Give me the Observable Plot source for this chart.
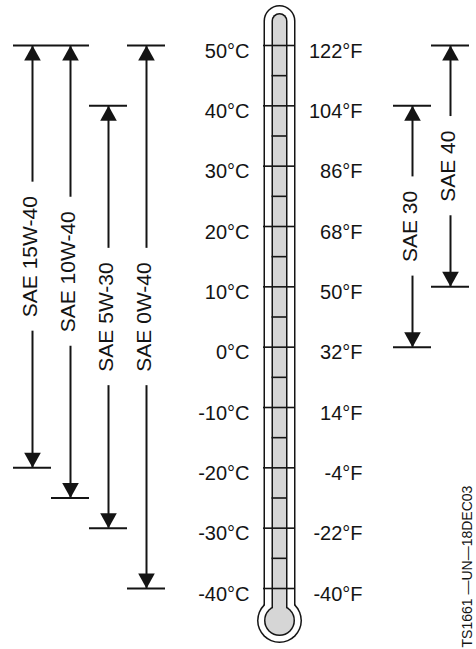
<!DOCTYPE html>
<html><head><meta charset="utf-8">
<script src="https://cdn.jsdelivr.net/npm/d3@7"></script>
<script src="https://cdn.jsdelivr.net/npm/@observablehq/plot@0.6"></script>
<style>
body{margin:0;background:#fff;}
#chart svg{display:block;}
</style>
</head><body><div id="chart"></div>
<script>
// ---- data ----
const grades = ["SAE 15W-40", "SAE 10W-40", "SAE 5W-30", "SAE 0W-40", "SAE 30", "SAE 40"];
const sides  = ["left", "left", "left", "left", "right", "right"];
const lowC   = [-20, -25, -30, -40, 0, 10];
const highC  = [50, 50, 40, 50, 40, 50];
const celsiusTicks = [50, 40, 30, 20, 10, 0, -10, -20, -30, -40];
const celsiusLabels = ["50°C", "40°C", "30°C", "20°C", "10°C", "0°C", "-10°C", "-20°C", "-30°C", "-40°C"];
const fahrenheitLabels = ["122°F", "104°F", "86°F", "68°F", "50°F", "32°F", "14°F", "-4°F", "-22°F", "-40°F"];
const minorTicks = [45, 35, 25, 15, 5, -5, -15, -25, -35];
const figureId = "TS1661 —UN—18DEC03";

// ---- layout helpers ----
const FONT = "'Liberation Sans', Arial, Helvetica, sans-serif";
const INK = "#141414";
const W = 476, H = 649;
const xOpts = {domain: [0, 11], range: [32, 450]};
const yOpts = {domain: [-40, 50], range: [588, 45]};
const degPerPx = (yOpts.domain[1] - yOpts.domain[0]) / (yOpts.range[0] - yOpts.range[1]);
const thermoX = 6.5;

const ctx = document.createElement("canvas").getContext("2d");
ctx.font = `21px ${FONT}`;

let leftCount = 0, rightCount = 0;
const rows = grades.map((g, i) => {
  const slot = sides[i] === "left" ? leftCount++ : 10 + rightCount++;
  const mid = (lowC[i] + highC[i]) / 2;
  const halfGap = (ctx.measureText(g).width / 2 + 14) * degPerPx;
  return {grade: g, slot, low: lowC[i], high: highC[i], mid, halfGap};
});
const segments = rows.flatMap(r => [
  {slot: r.slot, y1: r.high, y2: r.mid + r.halfGap},
  {slot: r.slot, y1: r.mid - r.halfGap, y2: r.low}
]);
const bars = rows.flatMap(r => [{slot: r.slot, y: r.high}, {slot: r.slot, y: r.low}]);
const ticks = celsiusTicks.map((c, i) => ({c, cl: celsiusLabels[i], fl: fahrenheitLabels[i]}));

const upTri = {draw(c) { c.moveTo(0, 0); c.lineTo(8.3, 15); c.lineTo(-8.3, 15); c.closePath(); }};
const downTri = {draw(c) { c.moveTo(0, 0); c.lineTo(8.3, -15); c.lineTo(-8.3, -15); c.closePath(); }};

const tube = {x: d => d, y1: 50, y2: -40, insetTop: -24, insetBottom: -32, strokeLinecap: "round"};
const bulb = {x: d => d, y: -40, dy: 32, stroke: "none"};

const chart = Plot.plot({
  width: W, height: H,
  margin: 0,
  x: {...xOpts, axis: null},
  y: {...yOpts, axis: null},
  style: {fontFamily: FONT, color: INK, background: "#fff"},
  marks: [
    // thermometer outer shell (outline by layering)
    Plot.ruleX([thermoX], {...tube, stroke: INK, strokeWidth: 32}),
    Plot.dot([thermoX], {...bulb, r: 22.5, fill: INK}),
    Plot.ruleX([thermoX], {...tube, stroke: "#fff", strokeWidth: 29}),
    Plot.dot([thermoX], {...bulb, r: 21, fill: "#fff"}),
    // inner column
    Plot.ruleX([thermoX], {...tube, stroke: INK, strokeWidth: 16}),
    Plot.dot([thermoX], {...bulb, r: 15.5, fill: INK}),
    Plot.ruleX([thermoX], {...tube, stroke: "#d6d6d6", strokeWidth: 13}),
    Plot.dot([thermoX], {...bulb, r: 14, fill: "#d6d6d6"}),
    // thermometer graduations
    Plot.ruleY(celsiusTicks, {y: d => d, x1: thermoX, x2: thermoX, insetLeft: -16, insetRight: -16, stroke: INK, strokeWidth: 1.6}),
    Plot.ruleY(minorTicks, {y: d => d, x1: thermoX, x2: thermoX, insetLeft: -7.5, insetRight: -7.5, stroke: INK, strokeWidth: 1.6}),
    // scale labels
    Plot.text(ticks, {x: thermoX, y: "c", text: "cl", textAnchor: "end", lineAnchor: "top", dx: -30, dy: -2, fontSize: 20, fill: INK}),
    Plot.text(ticks, {x: thermoX, y: "c", text: "fl", textAnchor: "end", lineAnchor: "top", dx: 83, dy: -2, fontSize: 20, fill: INK}),
    // viscosity ranges
    Plot.ruleX(segments, {x: "slot", y1: "y1", y2: "y2", stroke: INK, strokeWidth: 2}),
    Plot.ruleY(bars, {y: "y", x1: d => d.slot - 0.5, x2: d => d.slot + 0.5, stroke: INK, strokeWidth: 2}),
    Plot.dot(rows, {x: "slot", y: "high", symbol: upTri, fill: INK, stroke: "none"}),
    Plot.dot(rows, {x: "slot", y: "low", symbol: downTri, fill: INK, stroke: "none"}),
    Plot.text(rows, {x: "slot", y: "mid", text: "grade", rotate: -90, fontSize: 21, fill: INK, textAnchor: "middle", lineAnchor: "middle", dx: -2}),
    // figure id
    Plot.text([figureId], {frameAnchor: "bottom-right", text: d => d, rotate: -90, textAnchor: "start", lineAnchor: "top", fontSize: 14, dx: -14, dy: -2, fill: INK})
  ]
});
document.getElementById("chart").appendChild(chart);
</script>
</body></html>
